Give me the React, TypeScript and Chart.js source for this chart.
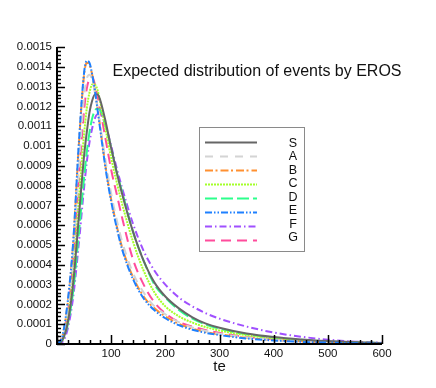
import React, { useEffect, useRef } from "react";
import { Chart, registerables } from "chart.js";

Chart.register(...registerables);

const TITLE = "Expected distribution of events by EROS";
const X_TITLE = "te";
const LABELS = ["S", "A", "B", "C", "D", "E", "F", "G"];

const XS = [0, 10, 20, 30, 40, 50, 55, 60, 65, 70, 75, 80, 90, 100, 110, 120, 140, 160, 180, 200, 225, 250, 275, 300, 350, 400, 450, 500, 550, 600];

const S_VALUES = [0, 0.00002, 0.00011, 0.00031, 0.00063, 0.00095, 0.00107, 0.00117, 0.00123, 0.00126, 0.00126, 0.00123, 0.00112, 0.00099, 0.00087, 0.00076, 0.00057, 0.00042, 0.00031, 0.00024, 0.00018, 0.000135, 0.000103, 0.000082, 0.000053, 0.000035, 0.000023, 0.000015, 0.000009, 0.000005];
const A_VALUES = [0, 0.00003, 0.00018, 0.00045, 0.00088, 0.00125, 0.00134, 0.00136, 0.00133, 0.00127, 0.00119, 0.0011, 0.00092, 0.00076, 0.00063, 0.00052, 0.00036, 0.00026, 0.00019, 0.00015, 0.00011, 0.000084, 0.000066, 0.000052, 0.000033, 0.000021, 0.000013, 0.000008, 0.000005, 0.000003];
const B_VALUES = [0, 0.00004, 0.00021, 0.00051, 0.00099, 0.00136, 0.00142, 0.00141, 0.00136, 0.00128, 0.00119, 0.00109, 0.00089, 0.00073, 0.0006, 0.00049, 0.00034, 0.00024, 0.00018, 0.00014, 0.000102, 0.000078, 0.000061, 0.000049, 0.000031, 0.00002, 0.000013, 0.000008, 0.000005, 0.000003];
const C_VALUES = [0, 0.00002, 0.00013, 0.00036, 0.00072, 0.00106, 0.00119, 0.00127, 0.00131, 0.00131, 0.00128, 0.00122, 0.00108, 0.00094, 0.00082, 0.00071, 0.00052, 0.00037, 0.00026, 0.00019, 0.00014, 0.000108, 0.000085, 0.000068, 0.000044, 0.000028, 0.000018, 0.000011, 0.000007, 0.000004];
const D_VALUES = [0, 0.00002, 0.0001, 0.00027, 0.00055, 0.00084, 0.00097, 0.00107, 0.00114, 0.00118, 0.00119, 0.00118, 0.0011, 0.00099, 0.00087, 0.00077, 0.00057, 0.00042, 0.0003, 0.000235, 0.000172, 0.000128, 0.000098, 0.000077, 0.000049, 0.000032, 0.000021, 0.000013, 0.000008, 0.000005];
const E_VALUES = [0, 0.00004, 0.00022, 0.00052, 0.001, 0.00137, 0.00143, 0.00142, 0.00136, 0.00128, 0.00118, 0.00108, 0.00088, 0.00072, 0.00059, 0.00048, 0.00033, 0.00023, 0.00017, 0.00013, 0.000095, 0.000072, 0.000056, 0.000045, 0.000028, 0.000018, 0.000011, 0.000007, 0.000004, 0.000002];
const F_VALUES = [0, 0.00001, 0.00008, 0.00024, 0.0005, 0.00079, 0.00092, 0.00102, 0.00109, 0.00114, 0.00116, 0.00116, 0.0011, 0.001, 0.00089, 0.00079, 0.00061, 0.00047, 0.00037, 0.0003, 0.000235, 0.00019, 0.000155, 0.000128, 0.000088, 0.000058, 0.000037, 0.000022, 0.000012, 0.000006];
const G_VALUES = [0, 0.00003, 0.00016, 0.00042, 0.00082, 0.00118, 0.00129, 0.00134, 0.00135, 0.00131, 0.00125, 0.00118, 0.00103, 0.00088, 0.00076, 0.00064, 0.00043, 0.0003, 0.00021, 0.000155, 0.000112, 0.000088, 0.00007, 0.000056, 0.000036, 0.000023, 0.000015, 0.000009, 0.000006, 0.000003];

const SERIES = [S_VALUES, A_VALUES, B_VALUES, C_VALUES, D_VALUES, E_VALUES, F_VALUES, G_VALUES];
const COLORS = ["#666666", "#d4d4d4", "#ff9030", "#a4ff2a", "#2cff8c", "#1e80ff", "#a050ff", "#ff4c9c"];
const DASHES: number[][] = [[], [8, 7], [8, 2.5, 2, 3], [2, 1], [12, 4], [7, 2, 1.5, 2, 1.5, 2], [7, 3, 1.5, 3], [10, 6]];
const ORDERS = [0, 0, 0, 0, 0, -1, 0, 0];

const Y_MAX = 0.0015;
const X_MAX = 600;
const FONT = "'Liberation Sans', Arial, Helvetica, sans-serif";

const decor = {
  id: "decor",
  afterDraw(chart: any) {
    const ctx = chart.ctx;
    const a = chart.chartArea;
    const xs = chart.scales.x;
    const ys = chart.scales.y;
    ctx.save();
    // axis lines
    ctx.strokeStyle = "#000";
    ctx.lineWidth = 2;
    ctx.beginPath();
    ctx.moveTo(a.left, a.top);
    ctx.lineTo(a.left, a.bottom);
    ctx.lineTo(a.right, a.bottom);
    ctx.stroke();
    // ticks inward
    ctx.lineWidth = 1.5;
    ctx.beginPath();
    for (let i = 0; i <= 75; i++) {
      const v = (i * Y_MAX) / 75;
      const p = Math.round(ys.getPixelForValue(v)) + 0.5;
      const len = i % 5 === 0 ? 8 : 4;
      ctx.moveTo(a.left, p);
      ctx.lineTo(a.left + len, p);
    }
    for (let i = 0; i <= 30; i++) {
      const v = (i * X_MAX) / 30;
      const p = Math.round(xs.getPixelForValue(v)) + 0.5;
      const len = i % 5 === 0 ? 9 : 4;
      ctx.moveTo(p, a.bottom);
      ctx.lineTo(p, a.bottom - len);
    }
    ctx.stroke();
    // axis title
    ctx.fillStyle = "#111";
    ctx.font = "15px " + FONT;
    ctx.textAlign = "center";
    ctx.textBaseline = "middle";
    ctx.fillText(X_TITLE, (a.left + a.right) / 2, a.bottom + 23);
    // chart title text
    ctx.font = "16px " + FONT;
    ctx.textAlign = "left";
    ctx.fillText(TITLE, a.left + 55.5, a.top + 25);
    // legend box
    const bx = a.left + 142;
    const by = a.top + 80;
    ctx.strokeStyle = "#8a8a8a";
    ctx.lineWidth = 1;
    ctx.strokeRect(bx + 0.5, by + 0.5, 105, 124);
    chart.data.datasets.forEach((ds: any, i: number) => {
      const ly = by + 15.5 + i * 14;
      ctx.strokeStyle = ds.borderColor;
      ctx.lineWidth = 2;
      ctx.setLineDash(ds.borderDash || []);
      ctx.beginPath();
      ctx.moveTo(bx + 6, ly);
      ctx.lineTo(bx + 58, ly);
      ctx.stroke();
      ctx.setLineDash([]);
      ctx.fillStyle = "#111";
      ctx.font = "12.5px " + FONT;
      ctx.textAlign = "center";
      ctx.fillText(ds.label, bx + 94, by + 16.5 + i * 13.45);
    });
    ctx.restore();
  },
};

export default function App() {
  const ref = useRef<HTMLCanvasElement | null>(null);
  useEffect(() => {
    if (!ref.current) return;
    const datasets = SERIES.map((vals, i) => ({
      label: LABELS[i],
      data: vals.map((y, j) => ({ x: XS[j], y })),
      borderColor: COLORS[i],
      borderDash: DASHES[i],
      borderWidth: 2,
      pointRadius: 0,
      fill: false,
      order: ORDERS[i],
      cubicInterpolationMode: "monotone" as const,
    }));
    const chart = new Chart(ref.current, {
      type: "line",
      data: { datasets },
      options: {
        animation: false,
        responsive: false,
        maintainAspectRatio: false,
        layout: { padding: { left: 0, top: 47, right: 54, bottom: 0 } },
        plugins: { legend: { display: false }, tooltip: { enabled: false }, title: { display: false } },
        scales: {
          x: {
            type: "linear",
            min: 0,
            max: X_MAX,
            grid: { display: false, drawTicks: false },
            border: { display: false },
            ticks: {
              stepSize: 100,
              padding: 3,
              color: "#111",
              font: { family: FONT, size: 11.5 },
              maxRotation: 0,
              callback: (v: any) => (Number(v) === 0 ? "" : String(v)),
            },
            afterFit: (s: any) => {
              s.height = 44;
            },
          },
          y: {
            min: 0,
            max: Y_MAX,
            grid: { display: false, drawTicks: false },
            border: { display: false },
            ticks: {
              stepSize: 0.0001,
              padding: 5,
              color: "#111",
              font: { family: FONT, size: 11.5 },
              callback: (v: any) => String(Number(Number(v).toFixed(4))),
            },
            afterFit: (s: any) => {
              s.width = 57;
            },
          },
        },
      },
      plugins: [decor],
    });
    return () => chart.destroy();
  }, []);
  return (
    <div style={{ position: "absolute", left: 0, top: 0, width: 436, height: 388, background: "#fff" }}>
      <canvas ref={ref} width={436} height={388} style={{ width: 436, height: 388, display: "block" }} />
    </div>
  );
}
